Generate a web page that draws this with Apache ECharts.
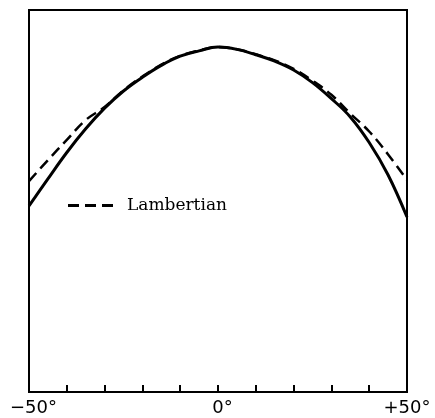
<!DOCTYPE html>
<html>
<head>
<meta charset="utf-8">
<script src="https://cdn.jsdelivr.net/npm/echarts@6/dist/echarts.min.js"></script>
<style>
  html, body { margin: 0; padding: 0; background: #fff; }
  #chart { width: 435px; height: 418px; }
</style>
</head>
<body>
<div id="chart"></div>
<script>
// viewing angle (deg)
const angles = [-50, -45, -40, -35, -30, -25, -20, -15, -10, -5, 0, 5, 10, 15, 20, 25, 30, 35, 40, 45, 50]
// measured curve (solid), relative intensity
const measured = [0.487, 0.558, 0.627, 0.689, 0.743, 0.788, 0.824, 0.855, 0.879, 0.893, 0.903,
  0.897, 0.883, 0.866, 0.843, 0.810, 0.768, 0.720, 0.653, 0.568, 0.458]
// Lambertian reference (dashed)
const lambertian = [0.552, 0.607, 0.660, 0.712, 0.746, 0.790, 0.826, 0.857, 0.880, 0.894, 0.903,
  0.897, 0.884, 0.868, 0.846, 0.815, 0.778, 0.729, 0.682, 0.622, 0.555]
// labelled ticks
const tickLabels = { '-50': '{s|\u221250°}', '0': '{s|0°}', '50': '{e|+50°}' }

const chart = echarts.init(document.getElementById('chart'))

const pairs = arr => angles.map((a, i) => [a, arr[i]])

const labelFont = { fontFamily: 'DejaVu Sans', fontSize: 18, color: '#000' }

chart.setOption({
  animation: false,
  backgroundColor: '#fff',
  grid: {
    left: 29, right: 28, top: 10, bottom: 26,
    show: true,
    borderColor: '#000',
    borderWidth: 2
  },
  legend: {
    // three short dashes as the key
    data: [{ name: 'Lambertian', icon: 'path://M0,0h11v3h-11zM17,0h11v3h-11zM34,0h11v3h-11z' }],
    left: 63,
    top: 192,
    itemWidth: 45,
    itemHeight: 3,
    itemStyle: { color: '#000' },
    textStyle: {
      fontFamily: 'DejaVu Serif',
      fontSize: 17,
      color: '#000',
      padding: [0, 0, 0, 9]
    }
  },
  xAxis: {
    type: 'value',
    min: -50,
    max: 50,
    interval: 10,
    axisLine: { lineStyle: { color: '#000', width: 2 } },
    axisTick: { inside: true, length: 7, lineStyle: { color: '#000', width: 2 } },
    splitLine: { show: false },
    axisLabel: {
      margin: 7,
      ...labelFont,
      formatter: v => tickLabels[String(v)] || '',
      rich: {
        s: { ...labelFont, padding: [0, 0, 0, 9] },
        e: { ...labelFont }
      }
    }
  },
  yAxis: {
    type: 'value',
    min: 0,
    max: 1,
    axisLine: { show: false },
    axisTick: { show: false },
    axisLabel: { show: false },
    splitLine: { show: false }
  },
  series: [
    {
      name: 'measured',
      type: 'line',
      smooth: 0.4,
      symbol: 'none',
      data: pairs(measured),
      lineStyle: { color: '#000', width: 3 },
      itemStyle: { color: '#000' }
    },
    {
      name: 'Lambertian',
      type: 'line',
      smooth: 0.4,
      symbol: 'none',
      data: pairs(lambertian),
      lineStyle: { color: '#000', width: 2.5, type: [11, 6] },
      itemStyle: { color: '#000' }
    }
  ]
})
</script>
</body>
</html>
